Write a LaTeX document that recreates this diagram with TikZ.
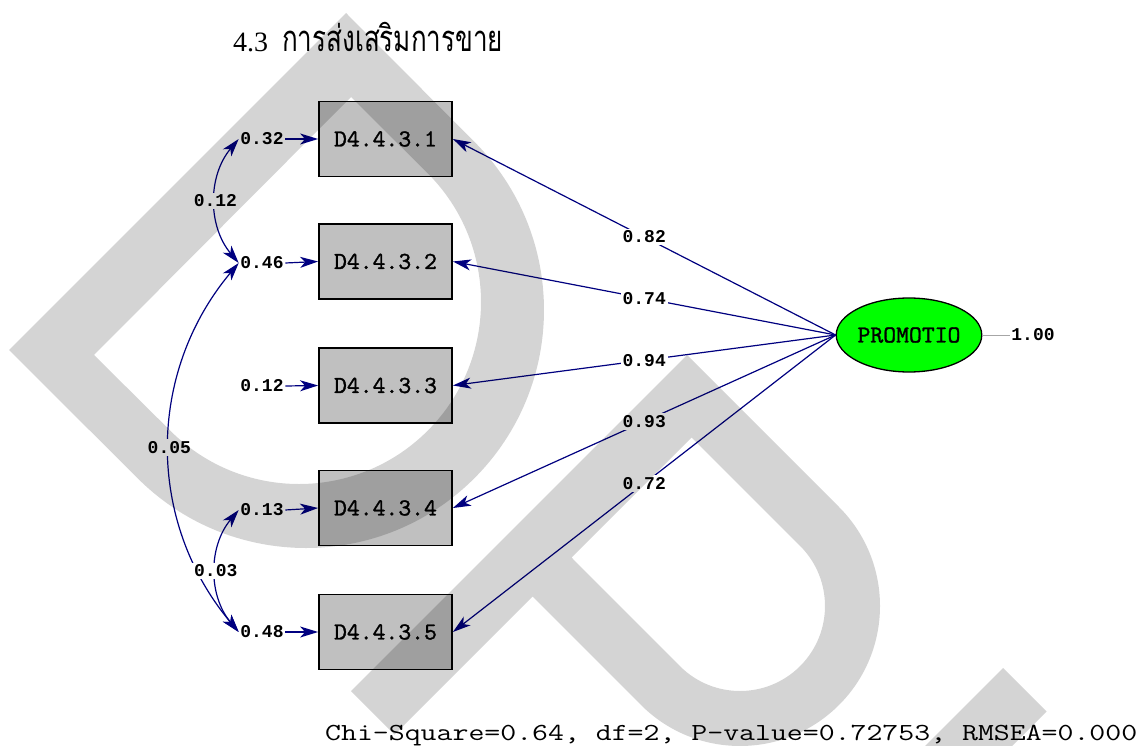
\documentclass[tikz,border=0pt]{standalone}
\usepackage{fontspec}
\usetikzlibrary{arrows.meta,shapes.geometric}
\newfontfamily\lisrelfont{Liberation Mono}
\newfontfamily\varfont{lmmono10-regular.otf}[FakeBold=1.2]
\newfontfamily\serifnum{Liberation Serif}
\newfontfamily\thaifont[Script=Thai]{Loma}
\definecolor{lnavy}{RGB}{0,0,128}
\definecolor{boxgray}{RGB}{192,192,192}
\definecolor{latgreen}{RGB}{0,255,0}
\tikzset{
  tipshape/.tip={Stealth[length=18pt,width=11pt,inset=5pt]},
  obs/.style={draw=black, line width=1.8pt, fill=boxgray, minimum width=133pt,
    minimum height=75pt, inner sep=0pt, font=\varfont\fontsize{24.5}{26}\selectfont},
  lat/.style={ellipse, draw=black, line width=1.3pt, fill=latgreen, minimum width=134pt,
    minimum height=74pt, inner sep=0pt, font=\varfont\fontsize{24.5}{26}\selectfont},
  val/.style={font=\lisrelfont\bfseries\fontsize{18}{20}\selectfont, inner sep=1.5pt},
  lab/.style={val, fill=white, inner sep=2pt},
  load/.style={draw=lnavy, line width=1.2pt, -tipshape},
  cov/.style={draw=lnavy, line width=1.2pt, tipshape-tipshape},
  wmark/.style={fill=black, fill opacity=0.17, even odd rule}
}
\begin{document}
\begin{tikzpicture}[x=1pt,y=1pt]
\fill[white] (0,0) rectangle (1144,-746);
\useasboundingbox (0,0) rectangle (1144,-746);

% heading
\node[anchor=base west, inner sep=0pt] (title) at (233,-52)
  {\fontsize{28}{30}\selectfont\serifnum 4.3\hspace{14pt}\scalebox{0.93}[1.3]{\thaifont การส่งเสริมการขาย}};

% observed variables
\node[obs] (b1) at (385.5,-139)   {D4.4.3.1};
\node[obs] (b2) at (385.5,-261.5) {D4.4.3.2};
\node[obs] (b3) at (385.5,-385.5) {D4.4.3.3};
\node[obs] (b4) at (385.5,-508)   {D4.4.3.4};
\node[obs] (b5) at (385.5,-632)   {D4.4.3.5};

% latent variable
\node[lat] (prom) at (909,-335) {PROMOTIO};
\node[val] (v1) at (1033,-335) {1.00};
\draw[black!35, line width=1pt] (prom.east) -- (v1.west);

% error variances
\node[val] (e1) at (262,-139)   {0.32};
\node[val] (e2) at (262,-263)   {0.46};
\node[val] (e3) at (262,-386)   {0.12};
\node[val] (e4) at (262,-510)   {0.13};
\node[val] (e5) at (262,-632)   {0.48};
\foreach \i in {1,...,5} \draw[load] (e\i.east) -- (b\i.west);

% factor loadings
\draw[load] (prom.west) -- node[lab] {0.82} (b1.east);
\draw[load] (prom.west) -- node[lab] {0.74} (b2.east);
\draw[load] (prom.west) -- node[lab] {0.94} (b3.east);
\draw[load] (prom.west) -- node[lab] {0.93} (b4.east);
\draw[load] (prom.west) -- node[lab] {0.72} (b5.east);

% error covariances
\draw[cov] (e1.west) to[bend right=40] node[lab] {0.12} (e2.west);
\draw[cov] (e2.west) to[bend right=40] node[lab] {0.05} (e5.west);
\draw[cov] (e4.west) to[bend right=40] node[lab] {0.03} (e5.west);

% fit statistics
\node[anchor=base west, inner sep=0pt] (chi) at (325,-740)
  {\scalebox{1.262}[1]{\ttfamily\fontsize{24.5}{26}\selectfont Chi-Square=0.64, df=2, P-value=0.72753, RMSEA=0.000}};

% grey logo overlay
\begin{scope}
\clip (0,0) rectangle (1144,-746);
\fill[wmark] (346,-13) -- (9,-350) -- (137.7,-478.3) arc[start angle=-135,end angle=45,radius=238pt] -- cycle
  (351,-97) -- (94,-355) -- (170.3,-430.7) arc[start angle=-135,end angle=45,radius=182pt] -- cycle;
\fill[wmark] (351,-691) -- (687,-355) -- (839,-507) arc[start angle=45,end angle=-135,radius=140pt]
  -- (532.5,-596.5) -- (394.5,-734.5) -- cycle
  (691.5,-437.5) -- (800.1,-545.9) arc[start angle=45,end angle=-135,radius=85pt] -- (571.5,-557.5) -- cycle;
\fill[wmark] (1003,-668) -- (1046.5,-711.5) -- (958,-800) -- (871,-800) -- cycle;
\end{scope}
\end{tikzpicture}
\end{document}
